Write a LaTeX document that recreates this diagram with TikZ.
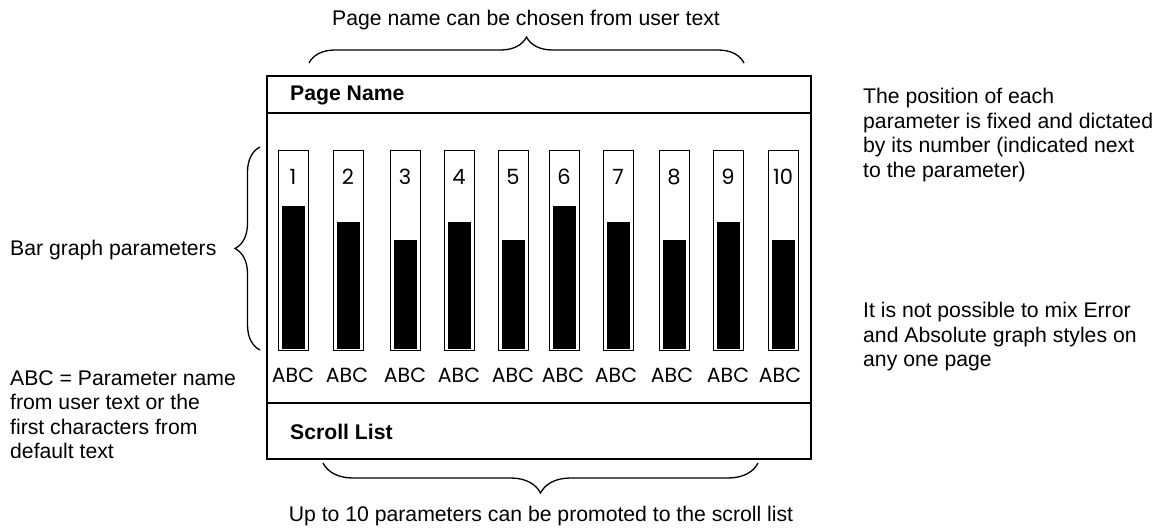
\documentclass[tikz,border=0pt]{standalone}
\usepackage{fontspec}
\setmainfont{Liberation Sans}
\newfontfamily\gothic{Poppins}
\usetikzlibrary{decorations.pathreplacing,positioning}

\begin{document}
\begin{tikzpicture}[
  x=1pt,y=-1pt,
  font=\fontsize{21.2}{24.5}\selectfont,
  frame/.style={draw=black,line width=1.5pt},
  note/.style={align=left,inner sep=0pt,anchor=north west},
  title/.style={font=\fontsize{21.2}{24.5}\selectfont\bfseries,inner sep=0pt,anchor=west},
  slot/.style={draw=black,line width=1.4pt,minimum width=30pt,minimum height=200pt,inner sep=0pt,anchor=north west},
  level/.style={fill=black,inner sep=0pt,minimum width=23pt,anchor=south},
  digit/.style={font=\gothic\fontsize{21}{21}\selectfont,inner sep=0pt},
  label/.style={font=\gothic\fontsize{20.5}{21}\selectfont,inner sep=0pt},
  curly/.style={decorate,decoration={brace,amplitude=#1},line width=1.3pt}
]
  \useasboundingbox (0,0) rectangle (1165,528);

  % display frame
  \node[frame,minimum width=544pt,minimum height=383pt,anchor=north west] (page) at (266,75) {};
  \coordinate (hdr) at (0,113);
  \coordinate (ftr) at (0,403);
  \draw[frame] (page.west |- hdr) -- (page.east |- hdr);
  \draw[frame] (page.west |- ftr) -- (page.east |- ftr);
  \node[title] (pagename) at (290,95) {Page Name};
  \node[title] (scroll) at (290,432) {Scroll List};

  % bars
  \foreach \n/\x/\t/\c in {1/278/206/293,2/333/222/347,3/390/240/405,4/444/222/459,5/498/240/513,
                           6/549/206/563,7/603/222/616,8/659/240/672,9/713/222/728,10/768/240/780}{
    \node[slot] (slot\n) at (\x,150) {};
    \node[level,minimum height={349-\t}] (lev\n) at (\x+15,349) {};
    \node[digit] (num\n) at (\x+15,177) {\n};
    \node[label] (abc\n) at (\c,375) {ABC};
  }

  % annotations
  \node[anchor=base,inner sep=0pt] (toptext) at (526,25) {Page name can be chosen from user text};
  \coordinate (topL) at (309,63);
  \coordinate (topR) at (744,63);
  \draw[curly=26pt] (topL) -- (topR);

  \node[anchor=base,inner sep=0pt] (bottext) at (541,521) {Up to 10 parameters can be promoted to the scroll list};
  \coordinate (botL) at (323,463);
  \coordinate (botR) at (758,463);
  \draw[curly=30pt] (botR) -- (botL);

  \node[anchor=base west,inner sep=0pt] (bartext) at (10,255) {Bar graph parameters};
  \coordinate (sideB) at (260,350);
  \coordinate (sideT) at (260,147);
  \draw[curly=25pt] (sideB) -- (sideT);

  \node[note] (abctext) at (10,370) {ABC = Parameter name\\from user text or the\\first characters from\\default text};
  \node[note] (postext) at (863,88) {The position of each\\parameter is fixed and dictated\\by its number (indicated next\\to the parameter)};
  \node[note] (mixtext) at (863,302) {It is not possible to mix Error\\and Absolute graph styles on\\any one page};
\end{tikzpicture}
\end{document}
